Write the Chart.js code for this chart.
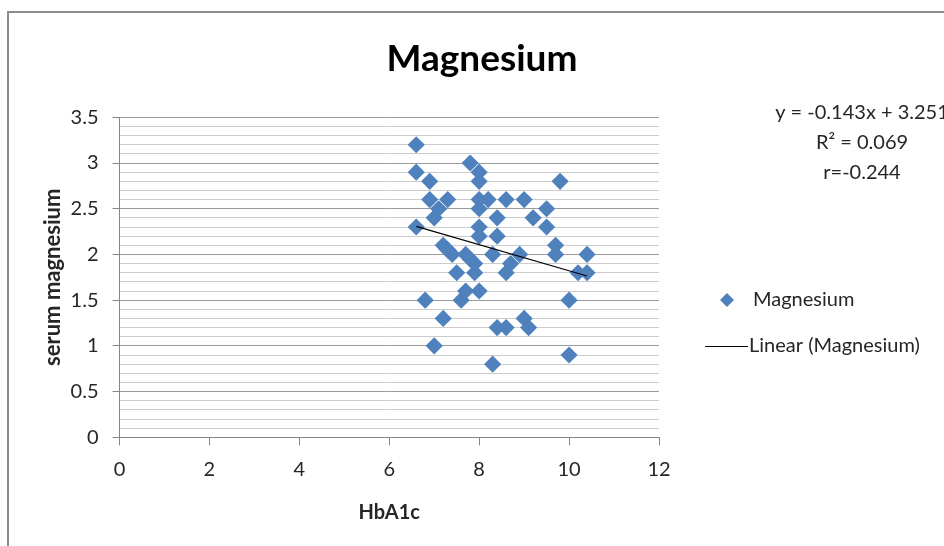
<!DOCTYPE html>
<html><head><meta charset="utf-8">
<script src="https://cdn.jsdelivr.net/npm/chart.js@4.4.1/dist/chart.umd.min.js"></script>
<style>html,body{margin:0;padding:0;background:#fff;overflow:hidden}canvas{display:block}</style>
</head><body>
<canvas id="c" width="944" height="546"></canvas>
<script>
const chartTitle = 'Magnesium';
const xAxisTitle = 'HbA1c';
const yAxisTitle = 'serum magnesium';
const seriesName = 'Magnesium';
const trendName = 'Linear (Magnesium)';
const hba1c =   [6.6,6.6,6.6,6.8,6.9,6.9,7.0,7.0,7.1,7.3,7.2,7.2,7.3,7.4,7.5,7.6,7.7,7.7,7.8,7.8,7.9,7.9,8.0,8.0,8.0,8.0,8.0,8.0,8.0,8.2,8.3,8.3,8.4,8.4,8.4,8.6,8.6,8.6,8.7,8.9,9.0,9.0,9.1,9.2,9.5,9.5,9.7,9.7,9.8,10.0,10.0,10.2,10.4,10.4];
const serumMg = [3.2,2.9,2.3,1.5,2.8,2.6,2.4,1.0,2.5,2.6,2.1,1.3,2.05,2.0,1.8,1.5,1.6,2.0,3.0,1.95,1.8,1.9,2.9,2.8,2.6,2.5,2.3,2.2,1.6,2.6,2.0,0.8,2.4,2.2,1.2,2.6,1.8,1.2,1.9,2.0,2.6,1.3,1.2,2.4,2.5,2.3,2.1,2.0,2.8,1.5,0.9,1.8,2.0,1.8];
const trendSlope = -0.143;
const trendIntercept = 3.251;
const equationLines = ['y = -0.143x + 3.251', 'R\u00B2 = 0.069', 'r=-0.244'];
const xTickValues = [0, 2, 4, 6, 8, 10, 12];
const yTickValues = [0, 0.5, 1, 1.5, 2, 2.5, 3, 3.5];

const FONT = 'Lato, "Open Sans", sans-serif';
const TEXT = '#262626';
const AXIS = '#868686';
const BLUE = '#4F81BD';

const points = hba1c.map((x, i) => ({x: x, y: serumMg[i]}));
const xMin = Math.min(...hba1c), xMax = Math.max(...hba1c);
const trend = [xMin, xMax].map(x => ({x: x, y: trendSlope * x + trendIntercept}));
const isMajor = v => yTickValues.some(t => Math.abs(t - v) < 1e-6);

const overlay = {
  id: 'overlay',
  beforeDraw(chart) {
    const c = chart.ctx;
    c.save();
    c.fillStyle = '#fff';
    c.fillRect(0, 0, chart.width, chart.height);
    c.strokeStyle = '#8c8c8c';
    c.lineWidth = 2;
    c.strokeRect(8, 12, 1200, 1200);
    c.restore();
  },
  afterDraw(chart) {
    const c = chart.ctx;
    c.save();
    c.fillStyle = TEXT;
    c.font = '20px ' + FONT;
    c.textAlign = 'center';
    c.textBaseline = 'middle';
    equationLines.forEach((s, i) => c.fillText(s, 862, 113 + i * 29.7));
    // legend
    c.textAlign = 'left';
    c.fillText(seriesName, 753, 300);
    c.fillText(trendName, 749, 346);
    c.fillStyle = BLUE;
    c.beginPath();
    const dx = 727, dy = 300, r = 7;
    c.moveTo(dx - r, dy); c.lineTo(dx, dy - r); c.lineTo(dx + r, dy); c.lineTo(dx, dy + r); c.closePath();
    c.fill();
    c.strokeStyle = '#000';
    c.lineWidth = 1;
    c.beginPath();
    c.moveTo(705, 346.5); c.lineTo(748, 346.5);
    c.stroke();
    c.restore();
  }
};

new Chart(document.getElementById('c'), {
  type: 'scatter',
  data: {
    datasets: [
      { type: 'line', label: trendName, data: trend, borderColor: '#000', borderWidth: 1.2, pointRadius: 0, fill: false, order: 0 },
      { label: seriesName, data: points, pointStyle: 'rectRot', pointRadius: 8.6, pointHoverRadius: 8.6,
        backgroundColor: BLUE, borderColor: BLUE, borderWidth: 0, order: 1 }
    ]
  },
  options: {
    responsive: false,
    animation: false,
    devicePixelRatio: 1,
    layout: { padding: { left: 20, top: 0, right: 0, bottom: 0 } },
    plugins: {
      legend: { display: false },
      tooltip: { enabled: false },
      title: { display: true, text: chartTitle, color: '#000',
        font: { family: FONT, size: 37, weight: 'bold', lineHeight: 1.2 },
        padding: { top: 36.8, bottom: 36.1 } }
    },
    scales: {
      x: {
        type: 'linear', min: 0, max: 12,
        afterBuildTicks: s => { s.ticks = xTickValues.map(v => ({value: v})); },
        ticks: { color: TEXT, font: { family: FONT, size: 20 }, padding: 12, maxRotation: 0 },
        grid: { drawOnChartArea: false, drawTicks: true, tickLength: 8, tickColor: AXIS },
        border: { color: AXIS, width: 1 },
        title: { display: true, text: xAxisTitle, color: TEXT,
          font: { family: FONT, size: 20, weight: 'bold', lineHeight: 1.2 }, padding: { top: 0, bottom: 21 } },
        afterFit: s => { s.height = 108.7; }
      },
      y: {
        type: 'linear', min: 0, max: 3.5,
        ticks: { stepSize: 0.1, autoSkip: false, color: TEXT, font: { family: FONT, size: 20 }, padding: 14,
          callback: v => isMajor(v) ? String(Math.round(v * 10) / 10) : '' },
        grid: {
          color: ctx => isMajor(ctx.tick.value) ? '#9a9a9a' : '#cccccc',
          tickColor: ctx => isMajor(ctx.tick.value) ? AXIS : 'rgba(0,0,0,0)',
          tickLength: 7, lineWidth: 1
        },
        border: { color: AXIS, width: 1 },
        title: { display: true, text: yAxisTitle, color: TEXT,
          font: { family: FONT, size: 22, weight: 'bold', lineHeight: 1.2 }, padding: { top: 19.8, bottom: 0 } },
        afterFit: s => { s.width = 99.5; }
      },
      yR: {
        type: 'linear', position: 'right', display: true, min: 0, max: 1,
        ticks: { display: false }, grid: { display: false, drawTicks: false }, border: { display: false },
        afterFit: s => { s.width = 285; }
      }
    }
  },
  plugins: [overlay]
});
</script>
</body></html>
